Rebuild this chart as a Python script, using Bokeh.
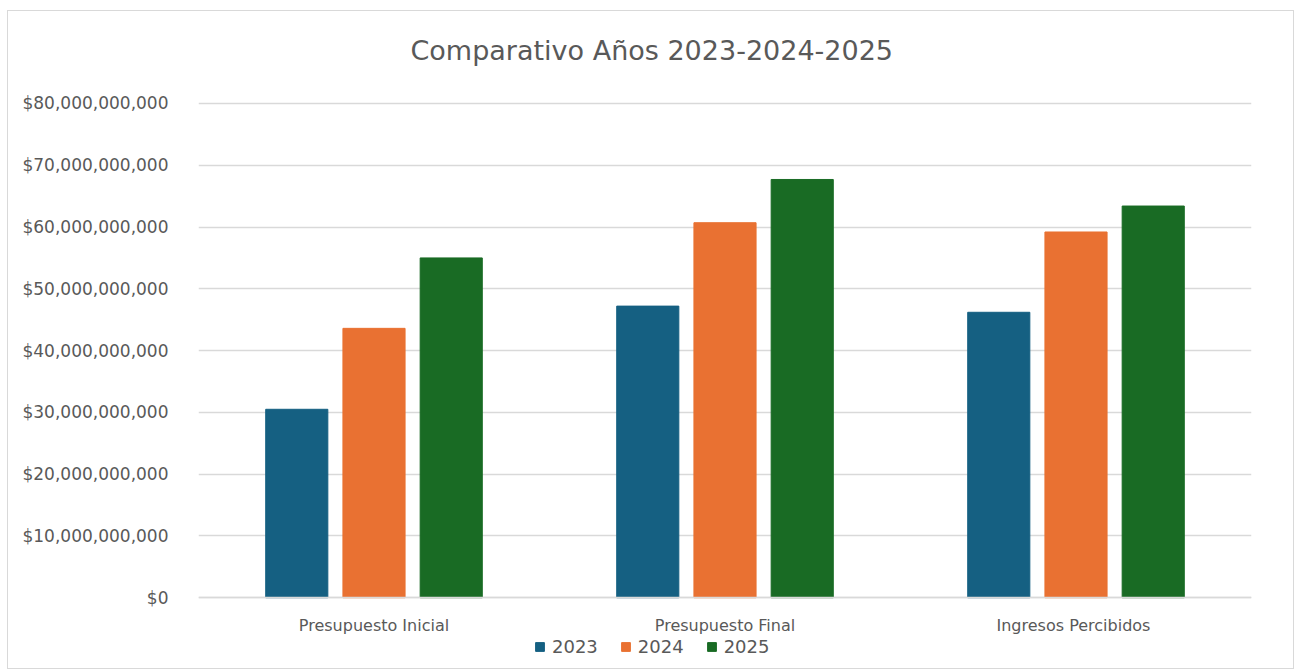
from bokeh.plotting import figure
from bokeh.models import (ColumnDataSource, NumeralTickFormatter, Legend, LegendItem,
                          FactorRange, FixedTicker)
from bokeh.transform import dodge
from bokeh.embed import file_html
from bokeh.resources import INLINE

categories = ["Presupuesto Inicial", "Presupuesto Final", "Ingresos  Percibidos"]
years = ["2023", "2024", "2025"]
v2023 = [30.5e9, 47.2e9, 46.2e9]
v2024 = [43.6e9, 60.7e9, 59.2e9]
v2025 = [55.0e9, 67.7e9, 63.4e9]
y_ticks = [0, 10e9, 20e9, 30e9, 40e9, 50e9, 60e9, 70e9, 80e9]
colors = ["#156082", "#E97132", "#196B24"]

src = ColumnDataSource(dict(cat=categories, y2023=v2023, y2024=v2024, y2025=v2025))

FONT = "DejaVu Sans"
GREY = "#595959"

p = figure(x_range=FactorRange(*categories), y_range=(-11.46e9, 82.75e9),
           frame_width=1053, frame_height=582, output_backend="svg", toolbar_location=None,
           min_border_left=190, min_border_right=42, min_border_top=75, min_border_bottom=0)
p.styles = {"border": "1px solid #d9d9d9", "margin-left": "7px", "margin-top": "10px"}
p.outline_line_color = None

p.title.text = "Comparativo Años 2023-2024-2025"
p.title.align = "left"
p.title.offset = 212
p.title.text_font = FONT
p.title.text_font_size = "27px"
p.title.text_font_style = "normal"
p.title.text_color = GREY
p.title.standoff = 42

renderers = []
for col, off, c in zip(["y2023", "y2024", "y2025"], [-0.22, 0.0, 0.22], colors):
    r = p.vbar(x=dodge("cat", off, range=p.x_range), top=col, width=0.177, source=src,
               fill_color=c, line_color=c)
    renderers.append(r)

p.xgrid.grid_line_color = None
p.ygrid.grid_line_color = "#d9d9d9"
p.ygrid.grid_line_width = 1.5

p.yaxis.ticker = FixedTicker(ticks=y_ticks)
p.yaxis.formatter = NumeralTickFormatter(format="$0,0")
p.yaxis.axis_line_color = None
p.yaxis.major_tick_line_color = None
p.yaxis.minor_tick_line_color = None
p.yaxis.major_label_text_font = FONT
p.yaxis.major_label_text_font_size = "17px"
p.yaxis.major_label_text_color = GREY
p.yaxis.major_label_standoff = 24

p.xaxis.fixed_location = 0
p.xaxis.axis_line_color = "#d9d9d9"
p.xaxis.axis_line_width = 1.5
p.xaxis.major_tick_line_color = None
p.xaxis.minor_tick_line_color = None
p.xaxis.major_label_text_font = FONT
p.xaxis.major_label_text_font_size = "16px"
p.xaxis.major_label_text_color = GREY
p.xaxis.major_label_standoff = 12

legend = Legend(items=[LegendItem(label=y, renderers=[r]) for y, r in zip(years, renderers)],
                orientation="horizontal", location=(336, 11),
                label_text_font=FONT, label_text_font_size="18px", label_text_color=GREY,
                glyph_width=11, glyph_height=11, spacing=22, label_standoff=7,
                border_line_color=None, background_fill_alpha=0, padding=2, margin=0)
p.add_layout(legend, "center")

open("out.html", "w").write(file_html(p, INLINE))
